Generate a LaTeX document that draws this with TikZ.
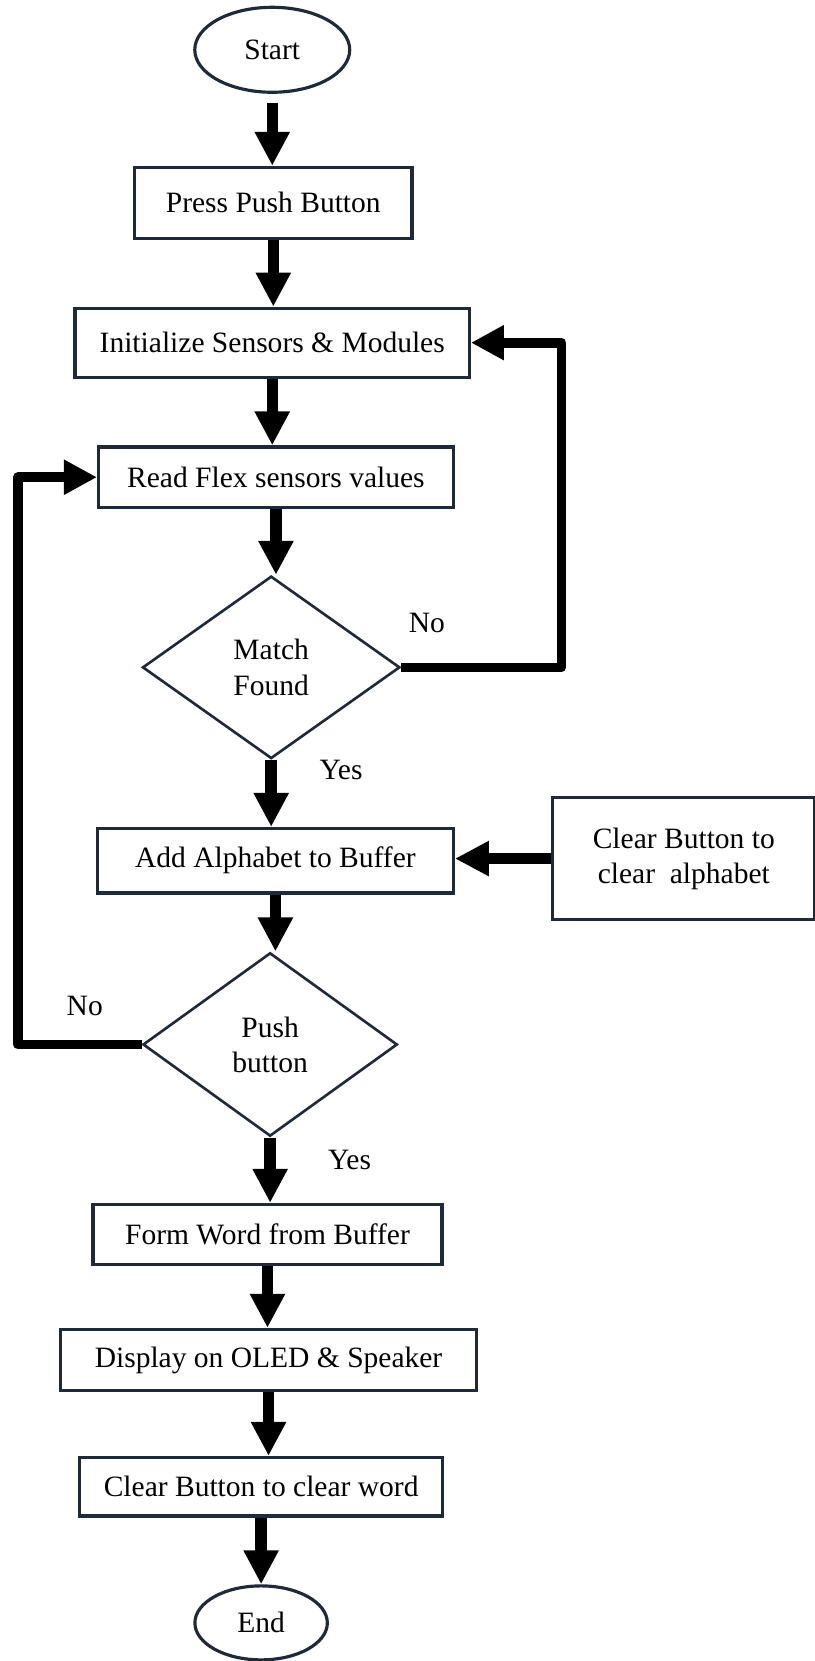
\documentclass[tikz,border=0pt]{standalone}
\usepackage{fontspec}
\setmainfont{Liberation Serif}
\usetikzlibrary{arrows.meta,shapes.geometric}
\definecolor{edgeblue}{RGB}{30,42,58}
\tikzset{
    block/.style={draw=edgeblue, line width=1.8pt, rectangle, align=center}, % process boxes
    term/.style={draw=edgeblue, line width=1.8pt, ellipse}, % start / end
    decide/.style={draw=edgeblue, line width=1.5pt, diamond, align=center, inner sep=0pt}, % decisions
    flow/.style={line width=6.5pt, -{Triangle[width=0.66cm, length=0.68cm]}}, % main arrows
    back/.style={line width=5.5pt, line join=round, -{Triangle[width=0.66cm, length=0.66cm]}} % loops
}

\begin{document}
\begin{tikzpicture}[x=0.0212cm, y=-0.0212cm, font=\fontsize{16.8}{20}\selectfont]
    \useasboundingbox (0,0) rectangle (769,1568);

    \node[term, minimum width=3.1cm, minimum height=1.7cm] (start) at (257,47) {Start};
    \node[block, minimum width=5.55cm, minimum height=1.42cm] (press) at (258,191.5) {Press Push Button};
    \node[block, minimum width=7.89cm, minimum height=1.38cm] (init) at (257,323.5) {Initialize Sensors \& Modules};
    \node[block, minimum width=7.1cm, minimum height=1.21cm] (read) at (260.5,450.5) {Read Flex sensors values};
    \node[decide, minimum width=5.15cm, minimum height=3.65cm] (match) at (256,630) {Match\\Found};
    \node[block, minimum width=7.12cm, minimum height=1.29cm] (add) at (260,812.5) {Add Alphabet to Buffer};
    \node[block, minimum width=5.24cm, minimum height=2.44cm] (clra) at (645.5,810.5) {Clear Button to\\clear\ \ alphabet};
    \node[decide, minimum width=5.09cm, minimum height=3.67cm] (push) at (255,986) {Push\\button};
    \node[block, minimum width=6.98cm, minimum height=1.21cm] (form) at (252.5,1165.5) {Form Word from Buffer};
    \node[block, minimum width=8.33cm, minimum height=1.23cm] (disp) at (253.5,1284) {Display on OLED \& Speaker};
    \node[block, minimum width=7.27cm, minimum height=1.17cm] (clrw) at (246.5,1403.5) {Clear Button to clear word};
    \node[term, minimum width=2.65cm, minimum height=1.48cm] (end) at (246.5,1532) {End};

    % branch labels
    \node (no1) at (403,588) {No};
    \node (yes1) at (322,727) {Yes};
    \node (no2) at (80,950) {No};
    \node (yes2) at (330,1095) {Yes};

    % main flow
    \draw[flow, shorten <=5pt] (start) -- (start |- press.north);
    \draw[flow] (press) -- (press |- init.north);
    \draw[flow] (init) -- (init |- read.north);
    \draw[flow] (read) -- (read |- match.north);
    \draw[flow] (match) -- (match |- add.north);
    \draw[flow] (add) -- (add |- push.north);
    \draw[flow] (push) -- (push |- form.north);
    \draw[flow] (form) -- (form |- disp.north);
    \draw[flow] (disp) -- (disp |- clrw.north);
    \draw[flow] (clrw) -- (end);
    \draw[flow] (clra.west) -- (clra.west -| add.east);

    % loops back
    \coordinate (rc) at (530,323.5);
    \coordinate (lc) at (17,450.5);
    \draw[back] (match.east) -| (rc) -- (init.east);
    \draw[back] (push.west) -| (lc) -- (read.west);
\end{tikzpicture}
\end{document}
